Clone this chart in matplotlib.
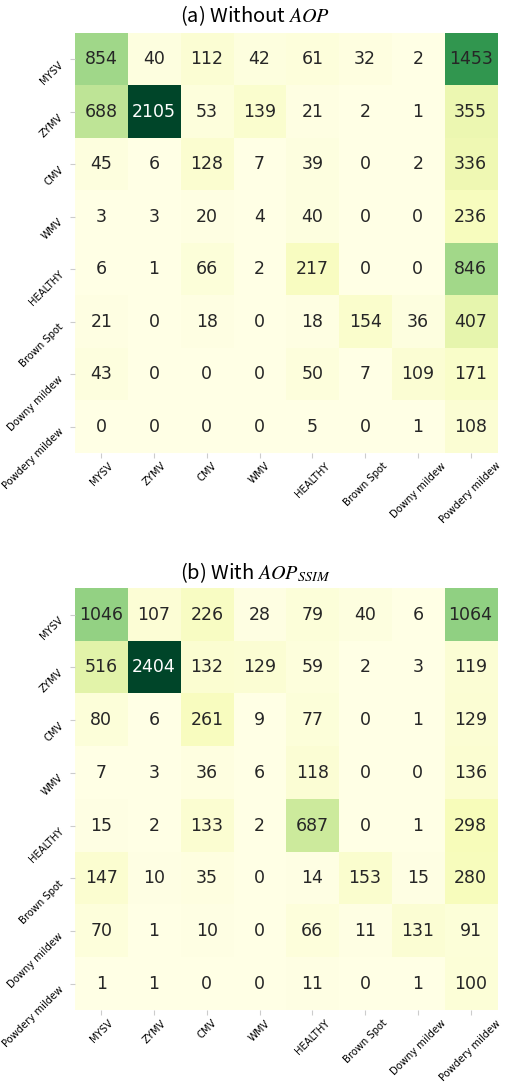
import numpy as np
import matplotlib
matplotlib.use("Agg")
import matplotlib.pyplot as plt

plt.rcParams['mathtext.fontset'] = 'stix'

labels = ['MYSV', 'ZYMV', 'CMV', 'WMV', 'HEALTHY', 'Brown Spot', 'Downy mildew', 'Powdery mildew']

# (a) without AOP
cm_a = np.array([
    [854, 40, 112, 42, 61, 32, 2, 1453],
    [688, 2105, 53, 139, 21, 2, 1, 355],
    [45, 6, 128, 7, 39, 0, 2, 336],
    [3, 3, 20, 4, 40, 0, 0, 236],
    [6, 1, 66, 2, 217, 0, 0, 846],
    [21, 0, 18, 0, 18, 154, 36, 407],
    [43, 0, 0, 0, 50, 7, 109, 171],
    [0, 0, 0, 0, 5, 0, 1, 108],
])

# (b) with AOP_SSIM
cm_b = np.array([
    [1046, 107, 226, 28, 79, 40, 6, 1064],
    [516, 2404, 132, 129, 59, 2, 3, 119],
    [80, 6, 261, 9, 77, 0, 1, 129],
    [7, 3, 36, 6, 118, 0, 0, 136],
    [15, 2, 133, 2, 687, 0, 1, 298],
    [147, 10, 35, 0, 14, 153, 15, 280],
    [70, 1, 10, 0, 66, 11, 131, 91],
    [1, 1, 0, 0, 11, 0, 1, 100],
])

titles = ['(a) Without $AOP$', '(b) With $AOP_{SSIM}$']
title_font = ['Noto Sans CJK KR', 'DejaVu Sans']


def draw(ax, cm):
    cmap = plt.get_cmap('YlGn')
    norm = plt.Normalize(cm.min(), cm.max())
    ax.imshow(cm, cmap=cmap, norm=norm, aspect='auto')
    n = len(labels)
    for i in range(n):
        for j in range(n):
            r, g, b, _ = cmap(norm(cm[i, j]))
            lum = 0.2126 * r + 0.7152 * g + 0.0722 * b
            color = '#262626' if lum > 0.45 else 'white'
            ax.text(j, i, str(cm[i, j]), ha='center', va='center',
                    fontsize=12.5, color=color)
    ax.set_xticks(range(n))
    ax.set_yticks(range(n))
    ax.set_xticklabels(labels, rotation=45, ha='center', fontsize=7.2)
    ax.set_yticklabels(labels, rotation=45, ha='right', va='top', fontsize=7.2)
    ax.tick_params(length=3.5, width=0.8, color='#cccccc')
    ax.tick_params(axis='x', pad=2)
    for s in ax.spines.values():
        s.set_visible(False)


fig = plt.figure(figsize=(5.1, 10.82), dpi=100)
ax1 = fig.add_axes([0.147, 0.5813, 0.8275, 0.388])
ax2 = fig.add_axes([0.147, 0.0663, 0.8275, 0.39])
draw(ax1, cm_a)
draw(ax2, cm_b)
fig.text(0.5, 0.986, titles[0], ha='center', va='center', fontsize=14.5,
         family=title_font)
fig.text(0.5, 0.4704, titles[1], ha='center', va='center', fontsize=14.5,
         family=title_font)

plt.savefig('out.png', dpi=100)
